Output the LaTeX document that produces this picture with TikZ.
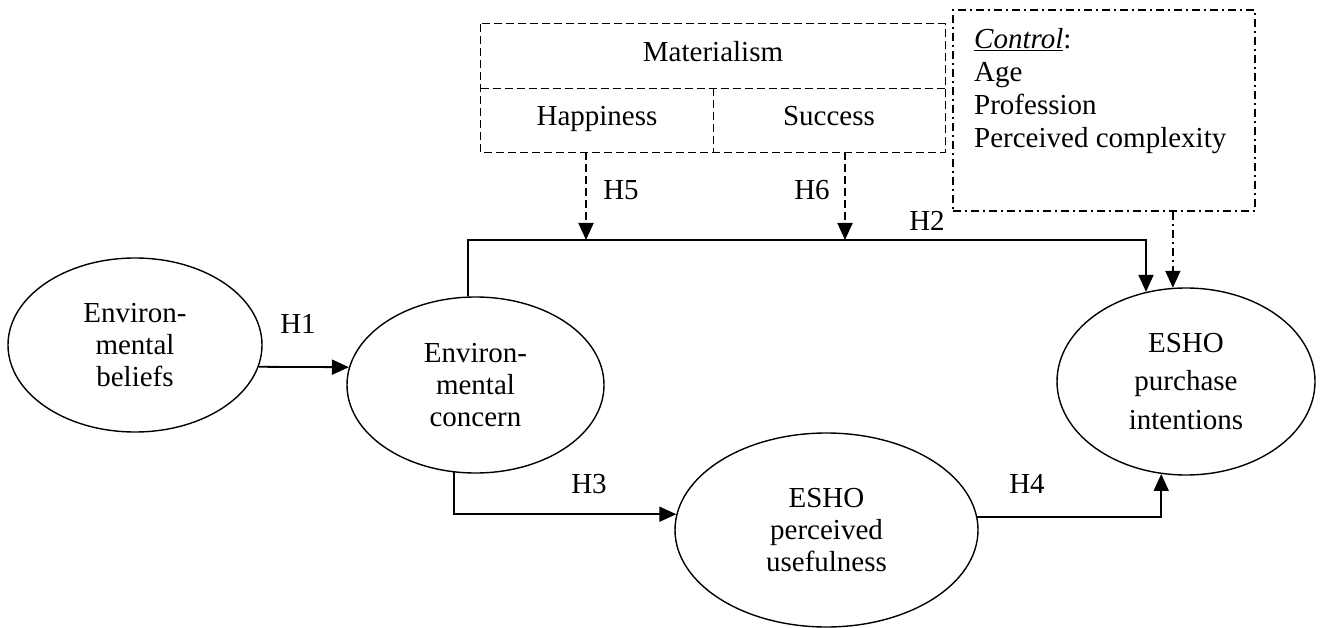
\documentclass[tikz,border=0pt]{standalone}
\usepackage{fontspec}
\setmainfont{Liberation Serif}
\usetikzlibrary{arrows.meta,shapes.geometric}
\tikzset{
  txt/.style={font=\fontsize{29}{32}\selectfont},
  ell/.style={draw, ellipse, line width=1.4pt, inner sep=0pt, align=center, txt},
  conn/.style={line width=1.8pt, -{Triangle[length=17pt,width=15pt]}},
  dashconn/.style={conn, dash pattern=on 8pt off 4pt},
  dashdotconn/.style={conn, dash pattern=on 8pt off 4pt on 2pt off 4pt},
  cell/.style={inner sep=0pt, minimum height=64pt, txt, text height=16pt, text depth=5pt},
  dashbox/.style={line width=1.3pt, dash pattern=on 8pt off 4pt},
  dashdotbox/.style={draw, line width=1.3pt, dash pattern=on 8pt off 4pt on 2pt off 4pt, inner sep=0pt},
  hlabel/.style={txt, anchor=base, inner sep=0pt}
}
\begin{document}
\begin{tikzpicture}[x=1pt,y=-1pt]
\useasboundingbox (0,0) rectangle (1321,628);

% ellipses
\node[ell, minimum width=254pt, minimum height=174pt] (e1) at (135,345) {Environ-\\mental\\beliefs};
\node[ell, minimum width=257pt, minimum height=176pt] (e2) at (475.5,385) {Environ-\\mental\\concern};
\node[ell, minimum width=303pt, minimum height=194pt] (e4) at (826.5,530) {ESHO\\perceived\\usefulness};
\node[ell, minimum width=258pt, minimum height=187pt, font=\fontsize{29}{38.5}\selectfont] (e3) at (1186,381.5) {ESHO\\purchase\\intentions};

% materialism box
\node[cell, minimum width=464pt] (mat) at (713,56) {Materialism};
\node[cell, minimum width=232pt] (happy) at (597,120) {Happiness};
\node[cell, minimum width=232pt] (succ) at (829,120) {Success};
\draw[dashbox] (mat.north west) rectangle (succ.south east);
\draw[dashbox] (mat.south west) -- (mat.south east);
\draw[dashbox] (happy.north east) -- (happy.south east);

% control box
\node[dashdotbox, minimum width=302pt, minimum height=201pt] (ctrl) at (1104,110.5) {};
\node[anchor=north west, align=left, inner sep=0pt, font=\fontsize{29}{33}\selectfont] (ctrltxt) at (974,28)
  {\underline{\textit{Control}}:\\Age\\Profession\\Perceived complexity};

% connectors
\coordinate (h2c) at (1146,240);
\coordinate (h2l) at (467,240);
\draw[conn] (e1.-10) -- (e2.172);
\draw[conn] (e2.95) |- (h2c) -- (h2c |- e3.114);
\draw[conn] (e2.256) |- (e4.174);
\draw[conn] (e4.5) -| (e3.255);
\draw[dashconn] ([xshift=-11pt]happy.south) -- ([xshift=-11pt]happy.south |- h2l);
\draw[dashconn] ([xshift=16pt]succ.south) -- ([xshift=16pt]succ.south |- h2l);
\draw[dashdotconn] (ctrl.south -| e3.98) -- (e3.98);

% labels
\node[hlabel] (lh1) at (298,333) {H1};
\node[hlabel] (lh2) at (927,230) {H2};
\node[hlabel] (lh3) at (589,493) {H3};
\node[hlabel] (lh4) at (1027,493) {H4};
\node[hlabel] (lh5) at (621,200) {H5};
\node[hlabel] (lh6) at (812,200) {H6};
\end{tikzpicture}
\end{document}
